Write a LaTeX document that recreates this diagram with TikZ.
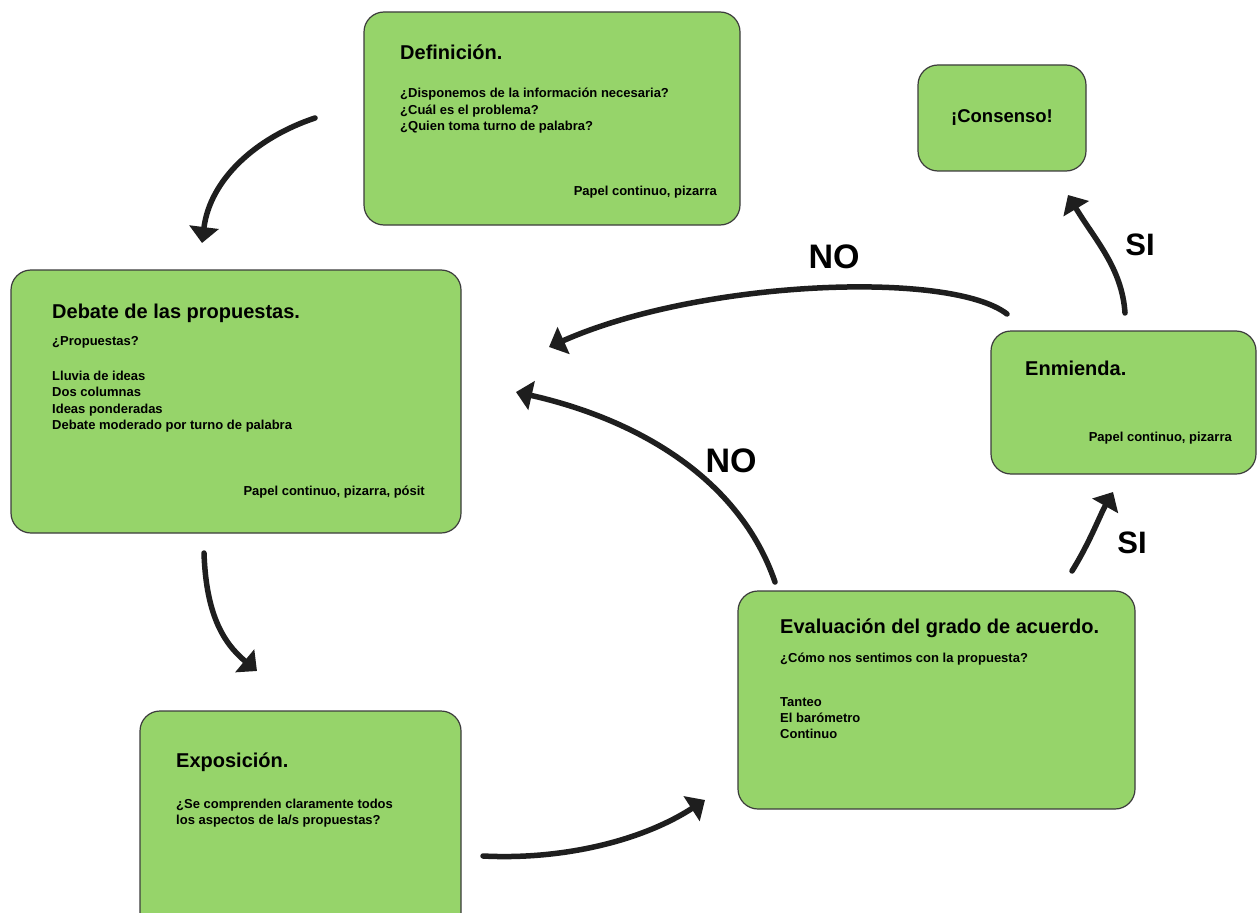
\documentclass[tikz,border=0pt]{standalone}
\usepackage{fontspec}
\setmainfont{Liberation Sans}
\usetikzlibrary{arrows.meta}
\definecolor{boxgreen}{HTML}{96D46A}
\definecolor{boxline}{HTML}{3C3C3C}
\definecolor{ink}{HTML}{1E1E1E}
\tikzset{
 card/.style={draw=boxline, line width=1.2pt, fill=boxgreen, rounded corners=20pt, anchor=north west, inner sep=0pt, outer sep=0pt},
 head/.style={font=\fontsize{20}{24}\selectfont\bfseries, anchor=base west, inner sep=0pt, text=black},
 body/.style={font=\fontsize{13}{16}\selectfont\bfseries, anchor=base west, inner sep=0pt, text=black},
 bodyr/.style={body, anchor=base east},
 big/.style={font=\fontsize{34}{40}\selectfont\bfseries, anchor=base, inner sep=0pt, text=black},
 flow/.style={draw=ink, line width=5.5pt, -{Triangle[length=16pt,width=29pt]}, line cap=round},
}
\begin{document}
\begin{tikzpicture}[x=1pt,y=-1pt]
\useasboundingbox (0,0) rectangle (1257,912);
\fill[white] (0,0) rectangle (1257,912);
% boxes
\node[card, minimum width=376pt, minimum height=213pt] (def) at (364,12) {};
\node[card, minimum width=168pt, minimum height=106pt] (cons) at (918,65) {};
\node[card, minimum width=450pt, minimum height=263pt] (deb) at (11,270) {};
\node[card, minimum width=265pt, minimum height=143pt] (enm) at (991,331) {};
\node[card, minimum width=397pt, minimum height=218pt] (eva) at (738,591) {};
\node[card, minimum width=321pt, minimum height=230pt] (exp) at (140,711) {};
% Definicion
\node[head] (defh) at (400,60) {Definición.};
\node[body] (def1) at (400,98) {¿Disponemos de la información necesaria?};
\node[body] (def2) at (400,114.5) {¿Cuál es el problema?};
\node[body] (def3) at (400,131) {¿Quien toma turno de palabra?};
\node[bodyr] (def4) at (717,195) {Papel continuo, pizarra};
% Consenso
\node[font=\fontsize{18.5}{22}\selectfont\bfseries, anchor=base, inner sep=0pt] (consh) at (1002,123) {¡Consenso!};
% Debate
\node[head] (debh) at (52,318) {Debate de las propuestas.};
\node[body] (deb1) at (52,345) {¿Propuestas?};
\node[body] (deb2) at (52,380) {Lluvia de ideas};
\node[body] (deb3) at (52,396.5) {Dos columnas};
\node[body] (deb4) at (52,413) {Ideas ponderadas};
\node[body] (deb5) at (52,429.5) {Debate moderado por turno de palabra};
\node[bodyr] (deb6) at (425,495) {Papel continuo, pizarra, pósit};
% Enmienda
\node[head] (enmh) at (1025,375) {Enmienda.};
\node[bodyr] (enm1) at (1232,441) {Papel continuo, pizarra};
% Evaluacion
\node[head] (evah) at (780,633) {Evaluación del grado de acuerdo.};
\node[body] (eva1) at (780,662) {¿Cómo nos sentimos con la propuesta?};
\node[body] (eva2) at (780,706) {Tanteo};
\node[body] (eva3) at (780,722) {El barómetro};
\node[body] (eva4) at (780,738) {Continuo};
% Exposicion
\node[head] (exph) at (176,767) {Exposición.};
\node[body] (exp1) at (176,808) {¿Se comprenden claramente todos};
\node[body] (exp2) at (176,824.5) {los aspectos de la/s propuestas?};
% arrow end points
\coordinate (a1s) at (315,118); \coordinate (a1e) at (202,243);
\coordinate (a2s) at (204,553); \coordinate (a2e) at (257,671);
\coordinate (a3s) at (483,856); \coordinate (a3e) at (705,800);
\coordinate (a4s) at (775,582); \coordinate (a4e) at (516,392);
\coordinate (a5s) at (1007,314); \coordinate (a5e) at (549,347);
\coordinate (a6s) at (1072,571); \coordinate (a6e) at (1113,492);
\coordinate (a7s) at (1125,313); \coordinate (a7e) at (1068,195);
\draw[flow] (a1s) .. controls (255,138) and (210,180) .. (a1e);
\draw[flow] (a2s) .. controls (206,612) and (222,642) .. (a2e);
\draw[flow] (a3s) .. controls (560,860) and (640,842) .. (a3e);
\draw[flow] (a4s) .. controls (740,480) and (640,420) .. (a4e);
\draw[flow] (a5s) .. controls (950,270) and (700,280) .. (a5e);
\draw[flow] (a6s) .. controls (1090,542) and (1100,515) .. (a6e);
\draw[flow] (a7s) .. controls (1122,268) and (1095,240) .. (a7e);
% labels
\node[big] (no1) at (834,268) {NO};
\node[big] (no2) at (731,472) {NO};
\node[big, font=\fontsize{31}{36}\selectfont\bfseries] (si1) at (1140,255) {SI};
\node[big, font=\fontsize{31}{36}\selectfont\bfseries] (si2) at (1132,553) {SI};
\end{tikzpicture}
\end{document}
